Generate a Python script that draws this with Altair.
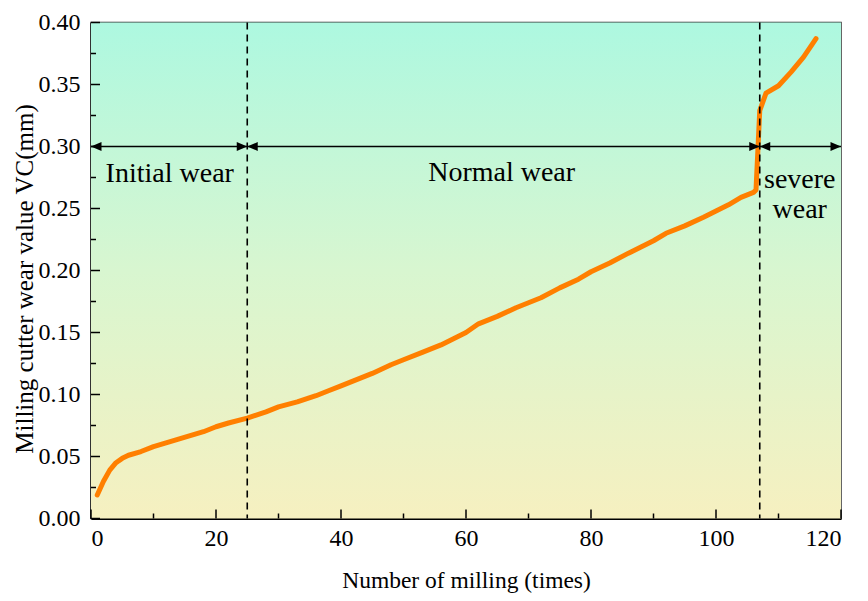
import altair as alt
import pandas as pd

# ---- data ----
milling_x = [1, 2, 3, 4, 5, 6, 8, 10, 12, 14, 16, 18, 20, 22, 25, 28, 30, 33, 36, 38,
             40, 42, 45, 48, 50, 53, 56, 58, 60, 62, 65, 68, 70, 72, 75, 78, 80, 83, 86,
             88, 90, 92, 95, 98, 100, 102, 104, 106, 106.4, 107, 108, 110, 112, 114, 116]
wear_vc = [0.019, 0.030, 0.039, 0.045, 0.0485, 0.051, 0.054, 0.058, 0.061, 0.064, 0.067,
           0.070, 0.074, 0.077, 0.081, 0.086, 0.090, 0.094, 0.099, 0.103, 0.107, 0.111,
           0.117, 0.124, 0.128, 0.134, 0.140, 0.145, 0.150, 0.157, 0.163, 0.170, 0.174,
           0.178, 0.186, 0.193, 0.199, 0.206, 0.214, 0.219, 0.224, 0.230, 0.236, 0.243,
           0.248, 0.253, 0.259, 0.263, 0.265, 0.329, 0.343, 0.349, 0.360, 0.372, 0.387]

phase_bounds = [25, 107]
arrow_start = [0, 25, 107]
arrow_end = [25, 107, 120]
arrow_y = 0.30

label_text = ["Initial wear", "Normal wear", "severe", "wear"]
label_x = [12.6, 65.7, 113.4, 113.4]
label_y = [0.278, 0.279, 0.273, 0.249]

x_major = [0, 20, 40, 60, 80, 100, 120]
x_minor = [10, 30, 50, 70, 90, 110]
y_major = [0.0, 0.05, 0.10, 0.15, 0.20, 0.25, 0.30, 0.35, 0.40]
y_minor = [0.025, 0.075, 0.125, 0.175, 0.225, 0.275, 0.325, 0.375]

W, H = 750, 496
FONT = "Liberation Serif"

df = pd.DataFrame({"x": milling_x, "y": wear_vc})
xs = alt.Scale(domain=[0, 120], nice=False)
ys = alt.Scale(domain=[0, 0.40], nice=False)

axis_style = dict(labelFont=FONT, labelFontSize=24, labelColor="black",
                  titleFont=FONT, titleFontWeight="normal",
                  titleColor="black", grid=False, ticks=False,
                  domainColor="black", domainWidth=2)


def X(field="x"):
    return alt.X(f"{field}:Q", scale=xs, axis=alt.Axis(
        title="Number of milling (times)", values=x_major, format="d",
        labelPadding=8, titleX=W / 2, titleY=62, titleBaseline="middle",
        titleFontSize=23.5, **axis_style))


def Y(field="y"):
    return alt.Y(f"{field}:Q", scale=ys, axis=alt.Axis(
        title="Milling cutter wear value VC(mm)", values=y_major, format=".2f",
        labelPadding=11, titleX=-67, titleY=256, titleFontSize=25,
        titleBaseline="middle", titleAngle=270, **axis_style))


bg = alt.Chart(pd.DataFrame({"a": [0]})).mark_rect(
    fill=alt.Gradient(
        gradient="linear", x1=0, x2=0, y1=0, y2=1,
        stops=[alt.GradientStop(color="#adf8e0", offset=0),
               alt.GradientStop(color="#d8f6d0", offset=0.5),
               alt.GradientStop(color="#f6f0c0", offset=1)]),
).encode(x=alt.value(0), x2=alt.value(W), y=alt.value(0), y2=alt.value(H))

line = alt.Chart(df).mark_line(color="#ff7f00", strokeWidth=5, strokeCap="round",
                               strokeJoin="round").encode(x=X(), y=Y())

vrules = alt.Chart(pd.DataFrame({"x": phase_bounds})).mark_rule(
    color="black", strokeWidth=1.6, strokeDash=[7, 5]).encode(
    x=X(), y=alt.value(0), y2=alt.value(H))

arrows_df = pd.DataFrame({"x": arrow_start, "x2": arrow_end, "y": [arrow_y] * 3})
arrows = alt.Chart(arrows_df).mark_rule(color="black", strokeWidth=1.5).encode(
    x=X(), x2="x2:Q", y=Y())

right_head = "M0,0 L-1,-0.42 L-1,0.42 Z"
left_head = "M0,0 L1,-0.42 L1,0.42 Z"
heads_r = alt.Chart(pd.DataFrame({"x": arrow_end, "y": [arrow_y] * 3})).mark_point(
    shape=right_head, filled=True, color="black", size=440, opacity=1).encode(
    x=X(), y=Y())
heads_l = alt.Chart(pd.DataFrame({"x": arrow_start, "y": [arrow_y] * 3})).mark_point(
    shape=left_head, filled=True, color="black", size=440, opacity=1).encode(
    x=X(), y=Y())

labels = alt.Chart(pd.DataFrame({"t": label_text, "x": label_x, "y": label_y})).mark_text(
    font=FONT, fontSize=28, color="black", baseline="middle", align="center").encode(
    x=X(), y=Y(), text="t:N")

xt_major = alt.Chart(pd.DataFrame({"x": x_major})).mark_rule(color="black", strokeWidth=1.5).encode(
    x=X(), y=alt.value(H), y2=alt.value(H - 9))
xt_minor = alt.Chart(pd.DataFrame({"x": x_minor})).mark_rule(color="black", strokeWidth=1.5).encode(
    x=X(), y=alt.value(H), y2=alt.value(H - 5))
yt_major = alt.Chart(pd.DataFrame({"y": y_major})).mark_rule(color="black", strokeWidth=1.5).encode(
    y=Y(), x=alt.value(0), x2=alt.value(9))
yt_minor = alt.Chart(pd.DataFrame({"y": y_minor})).mark_rule(color="black", strokeWidth=1.5).encode(
    y=Y(), x=alt.value(0), x2=alt.value(5))

chart = alt.layer(bg, line, vrules, arrows, heads_r, heads_l, labels,
                  xt_major, xt_minor, yt_major, yt_minor).properties(
    width=W, height=H,
    autosize=alt.AutoSizeParams(type="none"),
    padding={"left": 83, "top": 14.5, "right": 19, "bottom": 75},
).configure_view(stroke="#333333", strokeWidth=1.5)

chart.save("out.html", embed_options={"renderer": "svg", "actions": False})
